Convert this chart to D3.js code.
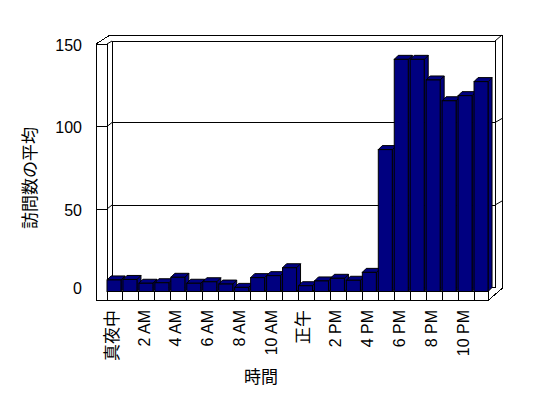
<!DOCTYPE html>
<html>
<head>
<meta charset="utf-8">
<script src="https://cdn.jsdelivr.net/npm/d3@7/dist/d3.min.js"></script>
<style>
  body { margin: 0; background: #fff; }
  text { font-family: "Liberation Sans", "Noto Sans CJK JP", sans-serif; fill: #000; }
  text.cjk { font-family: "Noto Sans CJK JP", sans-serif; }
</style>
</head>
<body>
<div class="chart-holder"></div>
<script>
const categories = ["真夜中","1 AM","2 AM","3 AM","4 AM","5 AM","6 AM","7 AM","8 AM","9 AM","10 AM","11 AM",
                    "正午","1 PM","2 PM","3 PM","4 PM","5 PM","6 PM","7 PM","8 PM","9 PM","10 PM","11 PM"];
const visits = [7, 7.3, 5, 5.3, 8.6, 5, 5.9, 4.5, 2.5, 8.4, 9.6, 14.4,
                3.5, 6.4, 8, 6.8, 11.6, 86, 140.7, 140.7, 128.2, 115.6, 118.7, 127.2];
const yTicks = [0, 50, 100, 150];

const svg = d3.select('.chart-holder')
  .append('svg')
  .attr('width', 548)
  .attr('height', 398);

// front plane of the 3d box
const left = 107, right = 490;
const wallX = 96;          // outer edge of the left wall
const back = {dx: 5, dy: -4}; // offset of the back wall
const floorH = 9;

const x = d3.scaleBand()
  .domain(categories)
  .range([left, right])
  .padding(0);
const y = d3.scaleLinear()
  .domain([0, 150])
  .range([291.5, 44]);

const g = svg.append('g').attr('shape-rendering', 'crispEdges');
const line = d3.line();

// outer box
g.append('path')
  .attr('d', line([[wallX, y(0) + floorH], [wallX, y(150)], [110, 35], [502, 35],
                   [502, y(0) - 3], [right - 2, y(0) + floorH]]) + 'Z')
  .attr('fill', '#fff').attr('stroke', '#000');

// back wall
g.append('rect')
  .attr('x', left + back.dx).attr('y', y(150) + back.dy + 1)
  .attr('width', 495 - left - back.dx)
  .attr('height', y(0) - y(150) - 1)
  .attr('fill', 'none').attr('stroke', '#000');

// left wall inner edge + top
g.append('path')
  .attr('d', line([[left, y(0)], [left, y(150)], [wallX, y(150)]]))
  .attr('fill', 'none').attr('stroke', '#000');
g.append('path')
  .attr('d', line([[left, y(150)], [left + back.dx, y(150) + back.dy + 1]]))
  .attr('fill', 'none').attr('stroke', '#000').attr('shape-rendering', 'auto');
g.append('path')
  .attr('d', line([[495, y(150) + back.dy + 1], [502, 35]]))
  .attr('fill', 'none').attr('stroke', '#000').attr('shape-rendering', 'auto');

// gridlines
const grid = yTicks.filter(d => d > 0 && d < 150);
grid.forEach(v => {
  const yf = y(v), yb = y(v) + back.dy;
  g.append('path')
    .attr('d', line([[wallX, yf], [left, yf]]))
    .attr('stroke', '#000');
  g.append('path')
    .attr('d', line([[left, yf], [left + back.dx, yb]]))
    .attr('stroke', '#000').attr('shape-rendering', 'auto');
  g.append('path')
    .attr('d', line([[left + back.dx, yb], [495, yb]]))
    .attr('stroke', '#000');
  g.append('path')
    .attr('d', line([[495, yb], [502, yb - 4]]))
    .attr('stroke', '#000').attr('shape-rendering', 'auto');
});

// floor front face
g.append('rect')
  .attr('x', left).attr('y', y(0))
  .attr('width', x.step() * categories.length - 2)
  .attr('height', floorH)
  .attr('fill', '#fff').attr('stroke', '#000');
g.append('path')
  .attr('d', line([[wallX, y(0) + floorH], [left, y(0) + floorH]]))
  .attr('stroke', '#000');
g.selectAll('.divider')
  .data(categories.slice(1))
  .enter().append('line')
    .attr('class', 'divider')
    .attr('x1', d => x(d)).attr('x2', d => x(d))
    .attr('y1', y(0)).attr('y2', y(0) + floorH)
    .attr('stroke', '#000');

// bars
const bw = 14, depth = {dx: 4, dy: -4};
const data = categories.map((c, i) => ({c, v: visits[i]}));
const bars = svg.append('g')
  .selectAll('g')
  .data(data)
  .enter().append('g');

bars.append('path') // side
  .attr('d', d => {
    const x0 = x(d.c) + bw, y0 = y(d.v), y1 = y(0);
    return line([[x0, y1], [x0, y0], [x0 + depth.dx, y0 + depth.dy], [x0 + depth.dx, y1 + depth.dy]]) + 'Z';
  });
bars.append('path') // top
  .attr('d', d => {
    const x0 = x(d.c), y0 = y(d.v);
    return line([[x0, y0], [x0 + depth.dx, y0 + depth.dy], [x0 + bw + depth.dx, y0 + depth.dy], [x0 + bw, y0]]) + 'Z';
  });
bars.append('rect') // front
  .attr('x', d => x(d.c))
  .attr('y', d => y(d.v))
  .attr('width', bw)
  .attr('height', d => y(0) - y(d.v));
bars.selectAll('path, rect')
  .attr('fill', '#000080')
  .attr('stroke', '#000')
  .attr('stroke-width', 1)
  .attr('stroke-linejoin', 'miter');

// y tick labels
svg.append('g')
  .selectAll('text')
  .data(yTicks)
  .enter().append('text')
    .attr('x', 82)
    .attr('y', d => d === 0 ? y(d) - 3 : y(d) + 1)
    .attr('dy', '0.35em')
    .attr('text-anchor', 'end')
    .attr('font-size', 16)
    .text(d => d);

// x tick labels, every second hour
svg.append('g')
  .selectAll('text')
  .data(categories.filter((d, i) => i % 2 === 0))
  .enter().append('text')
    .attr('class', d => /[^\x00-\x7f]/.test(d) ? 'cjk' : null)
    .attr('transform', d => `translate(${x(d) + x.bandwidth() / 2 - 3},310) rotate(-90)`)
    .attr('dy', '0.35em')
    .attr('text-anchor', 'end')
    .attr('font-size', d => /[^\x00-\x7f]/.test(d) ? 17 : 16)
    .text(d => d);

// axis titles
svg.append('text')
  .attr('class', 'cjk')
  .attr('x', 261).attr('y', 383)
  .attr('text-anchor', 'middle')
  .attr('font-size', 17)
  .text('時間');
svg.append('text')
  .attr('class', 'cjk')
  .attr('transform', 'translate(30,178) rotate(-90)')
  .attr('dy', '0.35em')
  .attr('text-anchor', 'middle')
  .attr('font-size', 17)
  .text('訪問数の平均');
</script>
</body>
</html>
